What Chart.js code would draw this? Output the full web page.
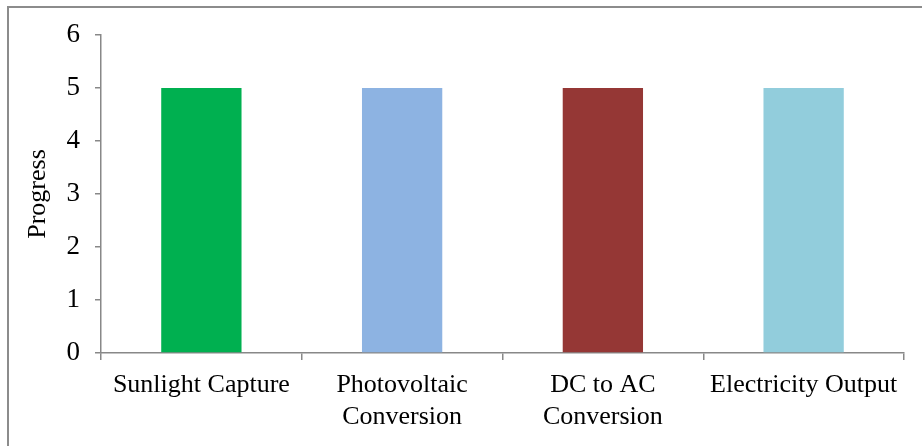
<!DOCTYPE html>
<html>
<head>
<meta charset="utf-8">
<style>
  html, body { margin: 0; padding: 0; background: #ffffff; }
  #wrap { position: relative; width: 922px; height: 446px; }
  canvas { display: block; }
</style>
<script src="https://cdn.jsdelivr.net/npm/chart.js@4.4.1/dist/chart.umd.min.js"></script>
</head>
<body>
<div id="wrap"><canvas id="chart" width="922" height="446"></canvas></div>
<script>
// Stages of turning sunlight into electricity, each scored on a 0–6 progress scale
const categories = [
  'Sunlight Capture',
  ['Photovoltaic', 'Conversion'],
  ['DC to AC', 'Conversion'],
  'Electricity Output'
];
const progressValues = [5, 5, 5, 5];
const barColors = ['#00B050', '#8DB3E2', '#953735', '#92CDDC'];
const yTicks = [0, 1, 2, 3, 4, 5, 6];

const axisGray = '#888888';
const fontFamily = '"Liberation Serif", "Times New Roman", serif';

// Frame line along the top and left edges of the chart box
const framePlugin = {
  id: 'frame',
  beforeDraw(chart) {
    const ctx = chart.ctx;
    ctx.save();
    ctx.strokeStyle = '#8c8c8c';
    ctx.lineWidth = 2;
    ctx.beginPath();
    ctx.moveTo(8, chart.height);
    ctx.lineTo(8, 7);
    ctx.lineTo(chart.width, 7);
    ctx.stroke();
    ctx.restore();
  }
};

new Chart(document.getElementById('chart'), {
  type: 'bar',
  data: {
    labels: categories,
    datasets: [{
      label: 'Progress',
      data: progressValues,
      backgroundColor: barColors,
      borderWidth: 0,
      barPercentage: 0.4,
      categoryPercentage: 1.0
    }]
  },
  options: {
    responsive: false,
    animation: false,
    devicePixelRatio: 1,
    layout: { padding: { top: 35, right: 18, left: 0, bottom: 0 } },
    plugins: {
      legend: { display: false },
      tooltip: { enabled: false }
    },
    scales: {
      x: {
        afterFit(scale) { scale.height = 93; },
        grid: {
          offset: true,
          drawOnChartArea: false,
          drawTicks: true,
          tickLength: 7,
          color: axisGray,
          lineWidth: 1.5
        },
        border: { display: true, color: axisGray, width: 1.5 },
        ticks: {
          color: '#000000',
          padding: 10,
          maxRotation: 0,
          autoSkip: false,
          font: { family: fontFamily, size: 26, lineHeight: 1.2 }
        }
      },
      y: {
        min: 0,
        max: 6,
        afterFit(scale) { scale.width = 101; },
        afterBuildTicks(scale) { scale.ticks = yTicks.map(v => ({ value: v })); },
        grid: {
          drawOnChartArea: false,
          drawTicks: true,
          tickLength: 6,
          color: axisGray,
          lineWidth: 1.5
        },
        border: { display: true, color: axisGray, width: 1.5 },
        ticks: {
          color: '#000000',
          padding: 15,
          font: { family: fontFamily, size: 27 }
        },
        title: {
          display: true,
          text: 'Progress',
          color: '#000000',
          padding: { top: 23, bottom: 0 },
          font: { family: fontFamily, size: 26, lineHeight: 1.2 }
        }
      }
    }
  },
  plugins: [framePlugin]
});
</script>
</body>
</html>
